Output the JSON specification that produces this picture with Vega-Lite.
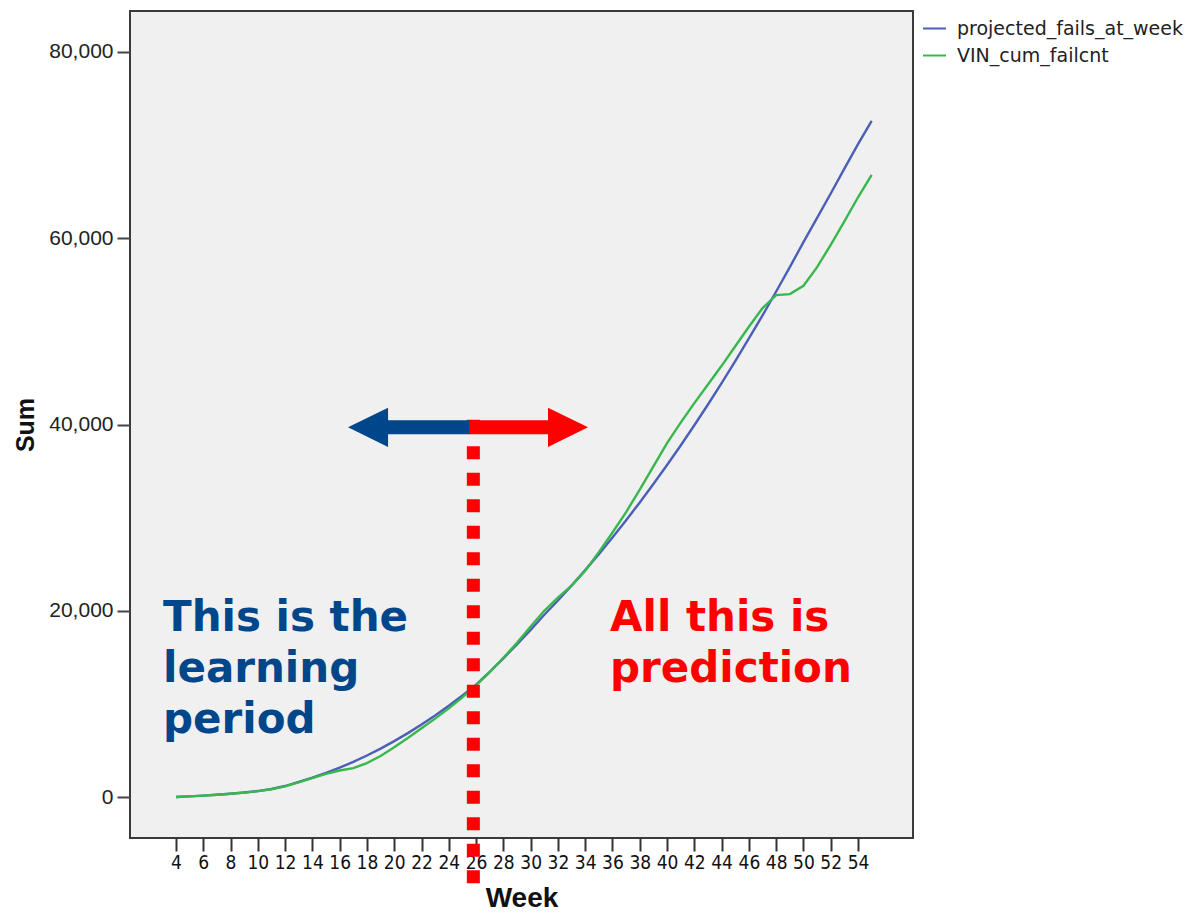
{
  "$schema": "https://vega.github.io/schema/vega-lite/v6.json",
  "width": 783,
  "height": 827,
  "autosize": {"type": "none"},
  "padding": {"left": 130, "top": 11, "right": 285, "bottom": 76},
  "background": "white",
  "config": {
    "view": {"fill": "#f0f0f0", "stroke": "#3a3a3a", "strokeWidth": 2},
    "axis": {"grid": false, "domain": false}
  },
  "datasets": {
    "weekly": [
      {"week": 4, "projected_fails_at_week": 0, "VIN_cum_failcnt": 0},
      {"week": 5, "projected_fails_at_week": 70, "VIN_cum_failcnt": 70},
      {"week": 6, "projected_fails_at_week": 150, "VIN_cum_failcnt": 150},
      {"week": 7, "projected_fails_at_week": 240, "VIN_cum_failcnt": 240},
      {"week": 8, "projected_fails_at_week": 350, "VIN_cum_failcnt": 350},
      {"week": 9, "projected_fails_at_week": 480, "VIN_cum_failcnt": 470},
      {"week": 10, "projected_fails_at_week": 640, "VIN_cum_failcnt": 630},
      {"week": 11, "projected_fails_at_week": 860, "VIN_cum_failcnt": 840},
      {"week": 12, "projected_fails_at_week": 1180, "VIN_cum_failcnt": 1150},
      {"week": 13, "projected_fails_at_week": 1625, "VIN_cum_failcnt": 1580},
      {"week": 14, "projected_fails_at_week": 2076, "VIN_cum_failcnt": 2020},
      {"week": 15, "projected_fails_at_week": 2584, "VIN_cum_failcnt": 2480},
      {"week": 16, "projected_fails_at_week": 3150, "VIN_cum_failcnt": 2850},
      {"week": 17, "projected_fails_at_week": 3774, "VIN_cum_failcnt": 3100},
      {"week": 18, "projected_fails_at_week": 4457, "VIN_cum_failcnt": 3650},
      {"week": 19, "projected_fails_at_week": 5199, "VIN_cum_failcnt": 4400},
      {"week": 20, "projected_fails_at_week": 6000, "VIN_cum_failcnt": 5350},
      {"week": 21, "projected_fails_at_week": 6861, "VIN_cum_failcnt": 6350},
      {"week": 22, "projected_fails_at_week": 7783, "VIN_cum_failcnt": 7380},
      {"week": 23, "projected_fails_at_week": 8764, "VIN_cum_failcnt": 8420},
      {"week": 24, "projected_fails_at_week": 9806, "VIN_cum_failcnt": 9520},
      {"week": 25, "projected_fails_at_week": 10909, "VIN_cum_failcnt": 10700},
      {"week": 26, "projected_fails_at_week": 12074, "VIN_cum_failcnt": 12000},
      {"week": 27, "projected_fails_at_week": 13450, "VIN_cum_failcnt": 13400},
      {"week": 28, "projected_fails_at_week": 14890, "VIN_cum_failcnt": 14950},
      {"week": 29, "projected_fails_at_week": 16380, "VIN_cum_failcnt": 16550},
      {"week": 30, "projected_fails_at_week": 17945, "VIN_cum_failcnt": 18300},
      {"week": 31, "projected_fails_at_week": 19570, "VIN_cum_failcnt": 20000},
      {"week": 32, "projected_fails_at_week": 21100, "VIN_cum_failcnt": 21400},
      {"week": 33, "projected_fails_at_week": 22700, "VIN_cum_failcnt": 22700},
      {"week": 34, "projected_fails_at_week": 24360, "VIN_cum_failcnt": 24300},
      {"week": 35, "projected_fails_at_week": 26080, "VIN_cum_failcnt": 26300},
      {"week": 36, "projected_fails_at_week": 27870, "VIN_cum_failcnt": 28400},
      {"week": 37, "projected_fails_at_week": 29720, "VIN_cum_failcnt": 30600},
      {"week": 38, "projected_fails_at_week": 31630, "VIN_cum_failcnt": 33000},
      {"week": 39, "projected_fails_at_week": 33610, "VIN_cum_failcnt": 35500},
      {"week": 40, "projected_fails_at_week": 35650, "VIN_cum_failcnt": 38000},
      {"week": 41, "projected_fails_at_week": 37750, "VIN_cum_failcnt": 40200},
      {"week": 42, "projected_fails_at_week": 39920, "VIN_cum_failcnt": 42300},
      {"week": 43, "projected_fails_at_week": 42150, "VIN_cum_failcnt": 44300},
      {"week": 44, "projected_fails_at_week": 44450, "VIN_cum_failcnt": 46300},
      {"week": 45, "projected_fails_at_week": 46810, "VIN_cum_failcnt": 48400},
      {"week": 46, "projected_fails_at_week": 49240, "VIN_cum_failcnt": 50500},
      {"week": 47, "projected_fails_at_week": 51720, "VIN_cum_failcnt": 52500},
      {"week": 48, "projected_fails_at_week": 54280, "VIN_cum_failcnt": 53900},
      {"week": 49, "projected_fails_at_week": 56900, "VIN_cum_failcnt": 54000},
      {"week": 50, "projected_fails_at_week": 59580, "VIN_cum_failcnt": 54900},
      {"week": 51, "projected_fails_at_week": 62180, "VIN_cum_failcnt": 56900},
      {"week": 52, "projected_fails_at_week": 64800, "VIN_cum_failcnt": 59300},
      {"week": 53, "projected_fails_at_week": 67480, "VIN_cum_failcnt": 61800},
      {"week": 54, "projected_fails_at_week": 70100, "VIN_cum_failcnt": 64400},
      {"week": 55, "projected_fails_at_week": 72600, "VIN_cum_failcnt": 66800}
    ],
    "divider": [{"week": 25.8, "value": 40500, "value2": -9600}],
    "learnShaft": [{"week": 19.5, "week2": 25.6, "value": 39700}],
    "predShaft": [{"week": 25.5, "week2": 31.3, "value": 39700}],
    "learnHead": [{"week": 18.08, "value": 39700}],
    "predHead": [{"week": 32.74, "value": 39700}],
    "learnText": [{"week": 3.05, "value": 17850, "label": ["This is the", "learning", "period"]}],
    "predText": [{"week": 35.82, "value": 17850, "label": ["All this is", "prediction"]}]
  },
  "encoding": {
    "x": {
      "field": "week", "type": "quantitative",
      "scale": {"domain": [0.63, 58.03], "nice": false, "zero": false},
      "axis": {
        "title": "Week", "values": [4,6,8,10,12,14,16,18,20,22,24,26,28,30,32,34,36,38,40,42,44,46,48,50,52,54],
        "tickSize": 13, "tickWidth": 2, "tickColor": "#333333",
        "labelFont": "Liberation Sans Narrow, DejaVu Sans Condensed, sans-serif", "labelFontSize": 19, "labelColor": "#111111", "labelPadding": 2,
        "labelFlush": false, "labelOverlap": false,
        "titleFont": "Liberation Sans", "titleFontSize": 28, "titleFontWeight": "bold", "titleColor": "#111111", "titlePadding": 12
      }
    },
    "y": {
      "field": "value", "type": "quantitative",
      "scale": {"domain": [-4400, 84400], "nice": false, "zero": false},
      "axis": {
        "title": "Sum", "values": [0, 20000, 40000, 60000, 80000], "format": ",d",
        "tickSize": 13, "tickWidth": 2, "tickColor": "#444444",
        "labelFont": "Liberation Sans", "labelFontSize": 21, "labelColor": "#222222", "labelPadding": 4,
        "titleFont": "Liberation Sans", "titleFontSize": 25, "titleFontWeight": "bold", "titleColor": "#111111", "titlePadding": 10
      }
    }
  },
  "layer": [
    {
      "data": {"name": "weekly"},
      "transform": [{"fold": ["projected_fails_at_week", "VIN_cum_failcnt"], "as": ["series", "value"]}],
      "mark": {"type": "line", "strokeWidth": 2.4},
      "encoding": {
        "color": {
          "field": "series", "type": "nominal",
          "scale": {"domain": ["projected_fails_at_week", "VIN_cum_failcnt"], "range": ["#4a5fb5", "#38b84c"]},
          "legend": {
            "title": null, "orient": "none", "legendX": 792, "legendY": 5, "padding": 0,
            "symbolType": "stroke", "symbolSize": 529, "symbolStrokeWidth": 2,
            "labelFont": "DejaVu Sans", "labelFontSize": 19, "labelColor": "#222222", "labelOffset": 10, "labelLimit": 400,
            "rowPadding": 4
          }
        }
      }
    },
    {
      "data": {"name": "divider"},
      "mark": {"type": "rule", "color": "#ff0000", "strokeWidth": 13, "strokeDash": [13, 13.5], "strokeCap": "butt"},
      "encoding": {"y2": {"field": "value2"}}
    },
    {
      "data": {"name": "learnShaft"},
      "mark": {"type": "rule", "color": "#00468b", "strokeWidth": 14, "strokeCap": "butt"},
      "encoding": {"x2": {"field": "week2"}}
    },
    {
      "data": {"name": "predShaft"},
      "mark": {"type": "rule", "color": "#ff0000", "strokeWidth": 14, "strokeCap": "butt"},
      "encoding": {"x2": {"field": "week2"}}
    },
    {
      "data": {"name": "learnHead"},
      "mark": {"type": "point", "shape": "M1,-0.98L-1,0L1,0.98Z", "size": 1600, "filled": true, "opacity": 1, "color": "#00468b", "strokeWidth": 0},
      "encoding": {}
    },
    {
      "data": {"name": "predHead"},
      "mark": {"type": "point", "shape": "M-1,-0.98L1,0L-1,0.98Z", "size": 1600, "filled": true, "opacity": 1, "color": "#ff0000", "strokeWidth": 0},
      "encoding": {}
    },
    {
      "data": {"name": "learnText"},
      "mark": {"type": "text", "align": "left", "baseline": "alphabetic", "font": "DejaVu Sans", "fontSize": 42, "fontWeight": "bold", "lineHeight": 51, "color": "#00468b"},
      "encoding": {"text": {"field": "label"}}
    },
    {
      "data": {"name": "predText"},
      "mark": {"type": "text", "align": "left", "baseline": "alphabetic", "font": "DejaVu Sans", "fontSize": 42, "fontWeight": "bold", "lineHeight": 51, "color": "#ff0000"},
      "encoding": {"text": {"field": "label"}}
    }
  ]
}
